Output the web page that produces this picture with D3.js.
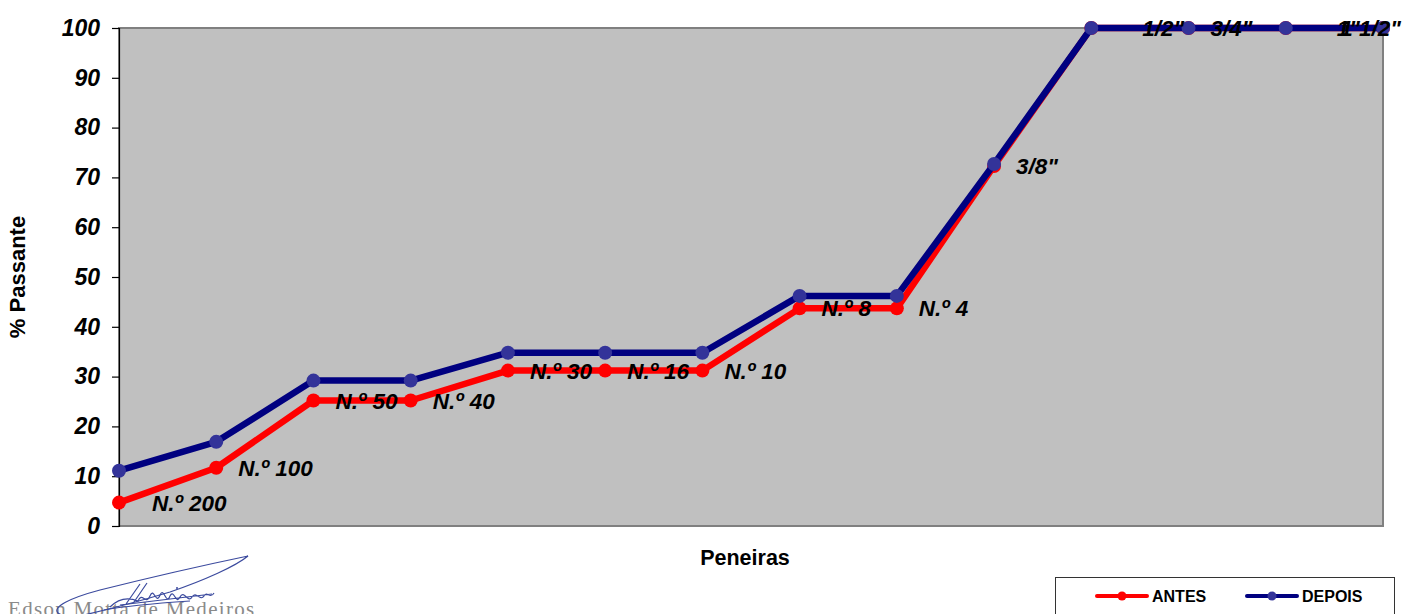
<!DOCTYPE html>
<html>
<head>
<meta charset="utf-8">
<script src="https://cdn.jsdelivr.net/npm/d3@7"></script>
<style>
  html, body { margin: 0; padding: 0; background: #fff; }
  svg { display: block; }
  text { font-family: "Liberation Sans", Arial, sans-serif; }
</style>
</head>
<body>
<svg id="chart" width="1404" height="614"></svg>
<script>
// Sieve sizes (peneiras) and cumulative % passing before / after
const categories = ['N.º 200', 'N.º 100', 'N.º 50', 'N.º 40', 'N.º 30', 'N.º 16', 'N.º 10',
                    'N.º 8', 'N.º 4', '3/8"', '1/2"', '3/4"', '1"', '1 1/2"'];
const antes  = [4.7, 11.7, 25.2, 25.2, 31.2, 31.2, 31.2, 43.7, 43.7, 72.3, 100, 100, 100, 100];
const depois = [11.1, 16.9, 29.2, 29.2, 34.8, 34.8, 34.8, 46.2, 46.2, 72.7, 100, 100, 100, 100];
const yTicks = [0, 10, 20, 30, 40, 50, 60, 70, 80, 90, 100];
const seriesNames = ['ANTES', 'DEPOIS'];

const svg = d3.select('#chart');
const plot = { left: 119, right: 1383, top: 28, bottom: 526 };

const x = d3.scalePoint().domain(categories).range([plot.left, plot.right]).padding(0);
const y = d3.scaleLinear().domain([0, 100]).range([plot.bottom, plot.top]);

// plot area
svg.append('rect')
  .attr('x', plot.left).attr('y', plot.top)
  .attr('width', plot.right - plot.left).attr('height', plot.bottom - plot.top)
  .attr('fill', '#c0c0c0').attr('stroke', '#808080').attr('stroke-width', 2);

// value axis
const yAxis = svg.append('g')
  .attr('transform', `translate(${plot.left},0)`)
  .call(d3.axisLeft(y).tickValues(yTicks).tickSize(7).tickPadding(12));
yAxis.select('.domain').attr('stroke', '#000').attr('stroke-width', 1.2);
yAxis.selectAll('.tick line').attr('stroke', '#000').attr('stroke-width', 1.2);
yAxis.selectAll('.tick text')
  .attr('fill', '#000')
  .style('font-family', '"Liberation Sans", Arial, sans-serif')
  .style('font-size', '23px').style('font-weight', 'bold').style('font-style', 'italic');

// axis titles
svg.append('text')
  .attr('transform', `translate(25,${(plot.top + plot.bottom) / 2}) rotate(-90)`)
  .attr('text-anchor', 'middle')
  .style('font-size', '22px').style('font-weight', 'bold')
  .text('% Passante');
svg.append('text')
  .attr('x', 745).attr('y', 565)
  .attr('text-anchor', 'middle')
  .style('font-size', '21.5px').style('font-weight', 'bold')
  .text('Peneiras');

const line = d3.line().x((d, i) => x(categories[i])).y(d => y(d));

function drawSeries(values, lineColor, markerColor) {
  svg.append('path')
    .datum(values)
    .attr('d', line)
    .attr('fill', 'none')
    .attr('stroke', lineColor)
    .attr('stroke-width', 6.5)
    .attr('stroke-linejoin', 'round');
  svg.append('g').selectAll('circle')
    .data(values)
    .join('circle')
    .attr('cx', (d, i) => x(categories[i]))
    .attr('cy', d => y(d))
    .attr('r', 7)
    .attr('fill', markerColor);
}

drawSeries(antes, '#ff0000', '#ff0000');
drawSeries(depois, '#000080', '#333399');

// sieve labels beside the ANTES points
const labelGap = { '1/2"': 51, '1"': 51, 'N.º 200': 33 };
svg.append('g').selectAll('text')
  .data(categories)
  .join('text')
  .attr('x', (c, i) => i === categories.length - 1 ? 1401 : x(c) + (labelGap[c] || 22))
  .attr('y', (c, i) => y(antes[i]))
  .attr('dy', '0.36em')
  .attr('text-anchor', (c, i) => i === categories.length - 1 ? 'end' : 'start')
  .style('font-size', '22.5px').style('font-weight', 'bold').style('font-style', 'italic')
  .attr('fill', '#000')
  .text(c => c);

// legend
const legend = svg.append('g');
legend.append('rect')
  .attr('x', 1055.5).attr('y', 577.5).attr('width', 339).attr('height', 50)
  .attr('fill', '#fff').attr('stroke', '#333').attr('stroke-width', 1);
const legendItems = [
  { name: seriesNames[0], line: '#ff0000', marker: '#ff0000', x: 1097 },
  { name: seriesNames[1], line: '#000080', marker: '#333399', x: 1247 }
];
legendItems.forEach(it => {
  legend.append('line')
    .attr('x1', it.x).attr('x2', it.x + 50).attr('y1', 596).attr('y2', 596)
    .attr('stroke', it.line).attr('stroke-width', 4).attr('stroke-linecap', 'round');
  legend.append('circle').attr('cx', it.x + 25).attr('cy', 596).attr('r', 4.5).attr('fill', it.marker);
  legend.append('text')
    .attr('x', it.x + 55).attr('y', 602)
    .style('font-size', '16px').style('font-weight', 'bold')
    .text(it.name);
});

// signature block
const sig = svg.append('g');
sig.append('text')
  .attr('x', 8).attr('y', 616)
  .attr('fill', '#8a8a8a')
  .style('font-family', '"Liberation Serif", "DejaVu Serif", serif')
  .style('font-size', '21px')
  .style('letter-spacing', '1.3px')
  .text('Edson Motta de Medeiros');
const ink = '#3b4a9e';
sig.append('path')
  .attr('d', 'M58,613 C52,607 70,598 100,590 C140,580 200,566 248,556 C236,566 205,580 170,592 C140,601 110,609 84,615 C72,617 62,616 58,613')
  .attr('fill', 'none').attr('stroke', ink).attr('stroke-width', 1.2);
sig.append('path')
  .attr('d', 'M126,604 L140,584 M134,602 L147,583 M110,607 C118,599 128,597 138,601 C142,591 146,606 150,596 C154,586 156,606 160,595 C164,586 166,606 170,596 C174,588 176,606 180,597 C184,589 188,604 192,597 C196,590 200,602 204,596 C207,590 210,600 214,593 M104,610 C130,605 160,603 190,601 M120,605 L212,594')
  .attr('fill', 'none').attr('stroke', ink).attr('stroke-width', 1.2);
sig.append('circle').attr('cx', 177).attr('cy', 588).attr('r', 1).attr('fill', ink);
</script>
</body>
</html>
